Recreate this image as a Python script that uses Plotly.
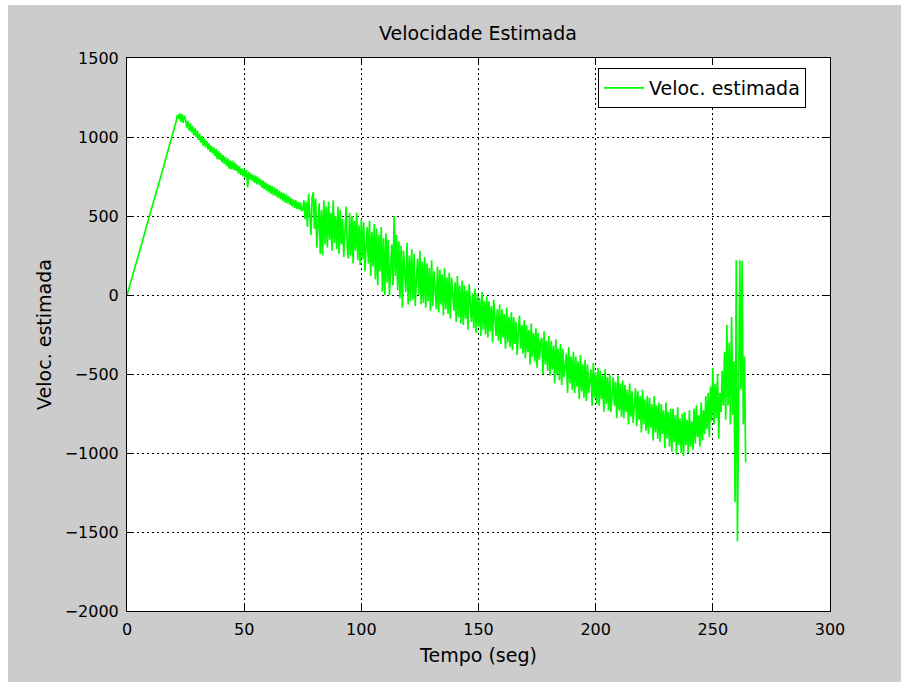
import plotly.graph_objects as go

# ---- data ----
t_ramp = [0, 3, 6, 9, 12, 15, 18, 20.5]
vel_ramp = [0, 150, 310, 470, 620, 780, 940, 1070]

t_noisy_start = 21.0
t_noisy_step = 0.5
vel_noisy = [
    # 21-25
    1100, 1140, 1115, 1150, 1095, 1145, 1090, 1135,
    # 25-30
    1110, 1060, 1100, 1040, 1085, 1030, 1070, 1010, 1055, 1000,
    # 30-35
    1040, 980, 1020, 965, 1005, 945, 990, 935, 975, 920,
    # 35-40
    960, 905, 945, 895, 935, 880, 925, 860, 910, 855,
    # 40-45
    900, 840, 885, 830, 875, 815, 865, 800, 850, 795,
    # 45-50
    850, 790, 840, 785, 825, 770, 815, 760, 800, 750,
    # 50-55
    800, 740, 790, 680, 780, 730, 770, 720, 760, 710,
    # 55-60
    755, 700, 745, 695, 735, 680, 725, 670, 715, 660,
    # 60-65
    705, 650, 695, 640, 690, 630, 680, 625, 670, 615,
    # 65-70
    660, 605, 650, 595, 645, 585, 635, 580, 625, 570,
    # 70-75
    615, 560, 605, 550, 600, 545, 590, 540, 585, 530,
    # 75-80
    540, 600, 480, 590, 430, 640, 520, 380, 620, 650,
    # 80-85
    420, 610, 300, 450, 580, 260, 540, 250, 600, 320,
    # 85-90
    560, 300, 590, 350, 520, 280, 600, 330, 500, 290,
    # 90-95
    560, 260, 540, 320, 480, 240, 400, 560, 300, 230,
    # 95-100
    520, 250, 500, 200, 470, 280, 520, 220, 440, 190,
    # 100-105
    480, 230, 460, 150, 300, 430, 200, 470, 120, 400,
    # 105-110
    180, 450, 100, 420, 60, 380, 150, 430, 20, 360,
    # 110-115
    0, 390, 80, 350, 0, 200, 320, 60, 500, 120,
    # 115-120
    380, 30, 340, -20, 310, -80, 280, 150, 20, 330,
    # 120-125
    -60, 250, -40, 290, -30, 260, -70, 100, 230, 0,
    # 125-130
    280, -60, 210, -50, 240, -80, 200, -40, 170, -100,
    # 130-135
    220, -70, 150, 40, -90, 180, -110, 160, -60, 130,
    # 135-140
    -130, 170, -90, 110, -120, 140, -150, 110, 0, -100,
    # 140-145
    80, -170, 120, -140, 60, -180, 90, -190, 60, -150,
    # 145-150
    30, -220, 70, -100, -170, 10, -210, 40, -240, 10,
    # 150-155
    -200, -20, -260, 20, -220, -40, -250, -10, -270, -40,
    # 155-160
    -230, -70, -300, -30, -160, -260, -90, -290, -60, -310,
    # 160-165
    -90, -270, -120, -340, -80, -300, -140, -330, -110, -350,
    # 165-170
    -140, -310, -170, -380, -230, -130, -340, -190, -370, -160,
    # 170-175
    -400, -190, -360, -220, -440, -180, -390, -240, -420, -210,
    # 175-180
    -460, -240, -410, -300, -270, -500, -230, -440, -290, -480,
    # 180-185
    -260, -510, -290, -470, -320, -560, -280, -500, -340, -540,
    # 185-190
    -310, -570, -340, -520, -450, -370, -620, -330, -560, -390,
    # 190-195
    -600, -360, -620, -390, -580, -420, -660, -380, -610, -440,
    # 195-200
    -650, -410, -670, -440, -620, -520, -470, -700, -430, -650,
    # 200-205
    -490, -690, -460, -700, -480, -660, -510, -740, -470, -690,
    # 205-210
    -520, -730, -500, -740, -620, -520, -700, -550, -780, -510,
    # 210-215
    -730, -560, -770, -540, -780, -570, -740, -600, -820, -560,
    # 215-220
    -770, -610, -810, -700, -590, -830, -610, -790, -640, -870,
    # 220-225
    -600, -820, -660, -860, -640, -880, -650, -840, -690, -920,
    # 225-230
    -640, -870, -700, -910, -680, -930, -690, -880, -730, -970,
    # 230-235
    -680, -910, -740, -960, -720, -990, -720, -930, -760, -1010,
    # 235-240
    -710, -950, -780, -1000, -750, -1020, -740, -950, -790, -1000,
    # 240-245
    -730, -960, -800, -980, -720, -940, -700, -900, -760, -960,
    # 245-250
    -680, -920, -730, -880, -640, -850, -620, -900, -580, -800,
    # 250-255
    -460, -820, -560, -780, -500, -910, -620, -740, -480, -700,
    # 255-264
    -360, -790, -190, -700, -300, -820, -140, -760, -420, -1310,
    220, -1560, -300, 220, -600, 215, -820, -390, -1060,
]

x_ticks = [0, 50, 100, 150, 200, 250, 300]
y_ticks = [-2000, -1500, -1000, -500, 0, 500, 1000, 1500]

t_noisy = [t_noisy_start + i * t_noisy_step for i in range(len(vel_noisy))]
t_all = t_ramp + t_noisy
v_all = vel_ramp + vel_noisy

fig = go.Figure()
fig.add_trace(go.Scatter(
    x=t_all, y=v_all, mode="lines",
    line=dict(color="#00ff00", width=1.7),
    name="Veloc. estimada",
))

W, H = 901, 682
ml, mr, mt, mb = 127, 71, 58, 71
pw, ph = W - ml - mr, H - mt - mb

family = "DejaVu Sans, Liberation Sans, sans-serif"
font = dict(family=family, size=16, color="#000000")
title_font = dict(family=family, size=19, color="#000000")

axis_common = dict(
    showline=True, linecolor="#000000", linewidth=1, mirror="ticks",
    ticks="inside", ticklen=6, tickcolor="#000000", tickwidth=1,
    showgrid=True, gridcolor="#000000", gridwidth=1, griddash="2px,3px",
    zeroline=False, tickfont=font,
)

fig.update_layout(
    width=W, height=H,
    margin=dict(l=ml, r=mr, t=mt, b=mb),
    paper_bgcolor="#cccccc", plot_bgcolor="#ffffff",
    font=font,
    title=dict(text="Velocidade Estimada", x=478 / W, xanchor="center",
               y=1 - 33 / H, yanchor="middle", font=title_font),
    xaxis=dict(range=[0, 300], tickvals=x_ticks, ticklabelstandoff=4,
               title=dict(text="Tempo (seg)", font=title_font, standoff=10), **axis_common),
    yaxis=dict(range=[-2000, 1500], tickvals=y_ticks, ticklabelstandoff=4,
               title=dict(text="Veloc. estimada", font=title_font, standoff=8), **axis_common),
    showlegend=True,
    legend=dict(x=(806 - ml) / pw, y=1 - 10 / ph, xanchor="right", yanchor="top",
                bgcolor="#ffffff", bordercolor="#000000", borderwidth=1,
                font=title_font, itemwidth=40),
    shapes=[
        dict(type="rect", xref="paper", yref="paper",
             x0=-ml / pw, x1=(-ml + 8) / pw, y0=-mb / ph, y1=1 + mt / ph,
             fillcolor="#ffffff", line=dict(width=0), layer="below"),
        dict(type="rect", xref="paper", yref="paper",
             x0=-ml / pw, x1=1 + mr / pw, y0=1 + (mt - 5) / ph, y1=1 + mt / ph,
             fillcolor="#ffffff", line=dict(width=0), layer="below"),
    ],
)

fig.write_html("out.html")
